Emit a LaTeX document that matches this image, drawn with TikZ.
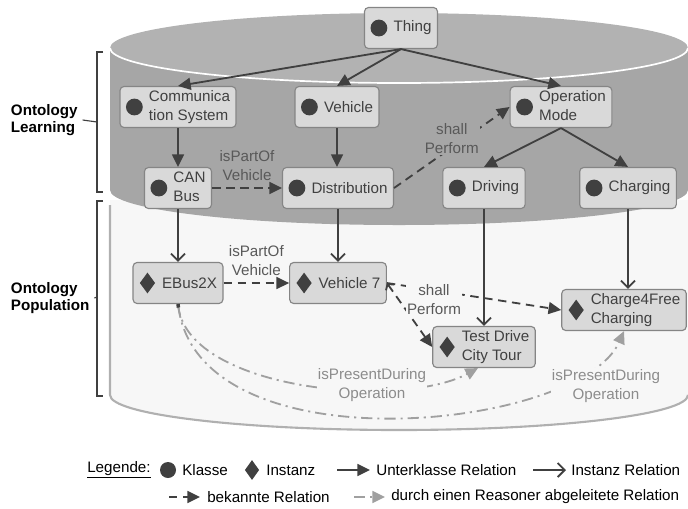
\documentclass[tikz,border=0pt]{standalone}
\usepackage{fontspec}
\setmainfont{Liberation Sans}
\usetikzlibrary{arrows.meta,positioning,calc,shapes.geometric}

\definecolor{ink}{HTML}{404040}
\definecolor{boxfill}{HTML}{D9D9D9}
\definecolor{boxline}{HTML}{858585}
\definecolor{cyltop}{HTML}{B2B2B2}
\definecolor{cylbody}{HTML}{A6A6A6}
\definecolor{popfill}{HTML}{F7F7F7}
\definecolor{popline}{HTML}{B0B0B0}
\definecolor{lbl}{HTML}{595959}
\definecolor{inferred}{HTML}{A0A0A0}
\definecolor{inftext}{HTML}{8C8C8C}

\newcommand{\zwei}[2]{\begin{tabular}{@{}l@{}}#1\\#2\end{tabular}}

\tikzset{
  box/.style={draw=boxline, fill=boxfill, rounded corners=0.1cm, line width=0.8pt,
    minimum height=1.025cm, inner xsep=0.15cm, inner ysep=1pt, text=ink,
    execute at begin node={\hspace*{0.575cm}}},
  klasse/.style={box, path picture={\fill[ink, sharp corners] ([xshift=0.36cm]path picture bounding box.west) circle (0.21cm);}},
  instanz/.style={box, path picture={\fill[ink, sharp corners] ([xshift=0.36cm]path picture bounding box.west)
      +(0,0.26cm) -- +(0.19cm,0) -- +(0,-0.26cm) -- +(-0.19cm,0) -- cycle;}},
  sub/.style={draw=ink, line width=1.3pt, -{Triangle[length=9pt,width=8.5pt]}},
  inst/.style={draw=ink, line width=1.3pt, -{Straight Barb[length=5pt,width=10pt]}},
  known/.style={sub, dash pattern=on 6pt off 4pt},
  infer/.style={draw=inferred, line width=1.3pt, dash pattern=on 8pt off 3.5pt on 1.5pt off 3.5pt,
    -{Triangle[length=9pt,width=8.5pt]}},
  rel/.style={text=lbl, align=center, inner sep=1pt},
  side/.style={font=\fontsize{10.8}{12.5}\selectfont\bfseries, align=left, anchor=west, text=black},
  legtext/.style={anchor=west, inner sep=0pt, text=black},
}

\begin{document}
\begin{tikzpicture}[x=0.025cm, y=-0.025cm, font=\fontsize{10.8}{13.5}\selectfont]
\useasboundingbox (0,0) rectangle (688,508);

% cylinder: population part, then learning part on top
\fill[popfill] (110,200) -- (110,395) arc[start angle=180, end angle=0, x radius=289, y radius=35] -- (688,200) -- cycle;
\draw[popline, line width=1.5pt] (110,205) -- (110,395) arc[start angle=180, end angle=0, x radius=289, y radius=35];
\fill[cylbody] (110,48) -- (110,190) arc[start angle=180, end angle=0, x radius=289, y radius=35] -- (688,48) -- cycle;
\fill[cyltop] (399,48) ellipse [x radius=289, y radius=35];
\draw[white, line width=1.2pt] (110,48) arc[start angle=180, end angle=0, x radius=289, y radius=35];

% side brackets
\node[side] (learn) at (6,120) {Ontology\\Learning};
\draw[ink, line width=0.8pt] (103,52) -- (97,52) -- (97,192) -- (103,192);
\draw[ink, line width=0.8pt] (learn.east) -- (97,122);
\node[side] (pop) at (6,298) {Ontology\\Population};
\draw[ink, line width=0.8pt] (103,201) -- (97,201) -- (97,396) -- (103,396);
\draw[ink, line width=0.8pt] (pop.east) -- (97,297);

% classes
\node[klasse] (thing) at (401,28) {Thing};
\node[klasse] (comm) at (178,107) {\zwei{Communica}{tion System}};
\node[klasse] (vehicle) at (337,107) {Vehicle};
\node[klasse] (opmode) at (561,107) {\zwei{Operation}{Mode}};
\node[klasse] (canbus) at (178,188) {\zwei{CAN}{Bus}};
\node[klasse] (distr) at (338,188) {Distribution};
\node[klasse] (driving) at (484,188) {Driving};
\node[klasse] (charging) at (628,188) {Charging};

% instances
\node[instanz] (ebus) at (178,283) {EBus2X};
\node[instanz] (veh7) at (338,283) {Vehicle 7};
\node[instanz] (testdrive) at (484,347) {\zwei{Test Drive}{City Tour}};
\node[instanz] (charge4) at (624,310) {\zwei{Charge4Free}{Charging}};

% subclass relations
\draw[sub] (thing.south) -- (comm.north);
\draw[sub] (thing.south) -- (vehicle.north);
\draw[sub] (thing.south) -- (opmode.north);
\draw[sub] (comm) -- (canbus);
\draw[sub] (vehicle) -- (vehicle |- distr.north);
\draw[sub] (opmode.south) -- (driving.north);
\draw[sub] (opmode.south) -- (charging.north);

% instance relations
\draw[inst] (canbus) -- (ebus);
\draw[inst] (distr) -- (veh7);
\draw[inst] (driving) -- (testdrive);
\draw[inst] (charging) -- (charging |- charge4.north);

% known relations
\draw[known] (canbus) -- node[rel, above, yshift=0.12cm] (pv1) {isPartOf\\Vehicle} (distr);
\draw[known] (distr.east) -- node[rel, fill=cylbody, yshift=0.22cm] (sp1) {shall\\Perform} (opmode.west);
\draw[known] (ebus) -- node[rel, above, yshift=0.12cm] (pv2) {isPartOf\\Vehicle} (veh7);
\draw[known, {Straight Barb[length=3pt,width=7pt]}-{Triangle[length=9pt,width=8.5pt]}] (veh7.east) -- (testdrive.west);
\draw[known] (veh7.east) -- (charge4.west);
\node[rel, fill=popfill] (sp2) at (434,300) {shall\\Perform};

% inferred relations
\draw[infer] (ebus.south) .. controls (185,390) and (400,410) .. ([xshift=-0.15cm]testdrive.south);
\draw[infer, {Square[length=2.5pt,width=2.5pt,color=ink]}-{Triangle[length=9pt,width=8.5pt]}]
  (ebus.south) .. controls (200,470) and (580,430) .. (charge4.south);
\node[rel, text=inftext, fill=popfill] (ip1) at (372,385) {isPresentDuring\\Operation};
\node[rel, text=inftext, fill=popfill] (ip2) at (606,386) {isPresentDuring\\Operation};

% legend
\node[legtext] (leg) at (87,470) {\underline{Legende:}};
\node[circle, fill=ink, minimum size=0.4cm, inner sep=0pt] (kdot) at (168,470) {};
\node[legtext] (kl) at (182,470) {Klasse};
\node[diamond, fill=ink, minimum width=0.36cm, minimum height=0.5cm, inner sep=0pt] (idia) at (252,470) {};
\node[legtext] (in) at (266,470) {Instanz};
\coordinate (s1) at (337,470);
\coordinate (s2) at (370,470);
\draw[sub] (s1) -- (s2);
\node[legtext] (ukr) at (376,470) {Unterklasse Relation};
\coordinate (i1) at (533,470);
\coordinate (i2) at (566,470);
\draw[inst] (i1) -- (i2);
\node[legtext] (ir) at (571,470) {Instanz Relation};
\coordinate (k1) at (169,497);
\coordinate (k2) at (200,497);
\draw[known] (k1) -- (k2);
\node[legtext] (br) at (207,497) {bekannte Relation};
\coordinate (r1) at (354,497);
\coordinate (r2) at (385,497);
\draw[infer] (r1) -- (r2);
\node[legtext] (ar) at (391,497) {durch einen Reasoner abgeleitete Relation};
\end{tikzpicture}
\end{document}
